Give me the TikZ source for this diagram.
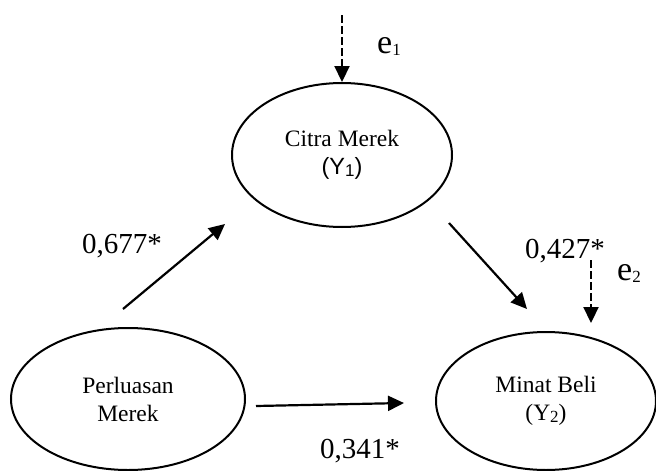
\documentclass[tikz,border=0pt]{standalone}
\usepackage{fontspec}
\setmainfont{Liberation Serif}
\newfontfamily\arialfam{Liberation Sans}
\usetikzlibrary{shapes.geometric,arrows.meta}
\newcommand{\lowsub}[2]{\raisebox{-#1}{\fontsize{17}{17}\selectfont #2}}
\begin{document}
\begin{tikzpicture}[x=1pt,y=-1pt,
  latent/.style={ellipse,draw,line width=2pt,inner sep=0pt,align=center,
    font=\fontsize{23.5}{28}\selectfont},
  pathline/.style={line width=2.2pt,-{Triangle[length=16pt,width=15pt]}},
  errline/.style={pathline,dash pattern=on 8pt off 3pt},
  coef/.style={font=\fontsize{29}{32}\selectfont,inner sep=0pt,anchor=base west},
  errlab/.style={font=\fontsize{34}{36}\selectfont,inner sep=0pt,anchor=base west}]
\useasboundingbox (0,0) rectangle (656,471);

% latent variables
\node[latent,minimum width=220pt,minimum height=144pt] (cm) at (342,155)
  {Citra Merek\\{\arialfam(Y\lowsub{2pt}{1})}};
\node[latent,minimum width=234pt,minimum height=142pt] (pm) at (128,399)
  {Perluasan\\Merek};
\node[latent,minimum width=220pt,minimum height=138pt] (mb) at (546,401)
  {Minat Beli\\(Y\lowsub{2pt}{2})};

% end points of the structural paths
\coordinate (p1s) at (123,309);
\coordinate (p1e) at (225,224);
\coordinate (p2s) at (449,223);
\coordinate (p2e) at (527,309);
\coordinate (p3s) at (256,406);
\coordinate (p3e) at (404,403);
\coordinate (e1s) at (342,15);
\coordinate (e2s) at (591,260);
\coordinate (e2e) at (591,323);

% structural paths
\draw[pathline] (p1s) -- (p1e);
\draw[pathline] (p2s) -- (p2e);
\draw[pathline] (p3s) -- (p3e);

% error terms
\draw[errline] (e1s) -- (cm.north);
\draw[errline] (e2s) -- (e2e);

% labels
\node[coef] (c1) at (82,253) {0,677*};
\node[coef] (c2) at (525,258) {0,427*};
\node[coef] (c3) at (320,458) {0,341*};
\node[errlab] (l1) at (377,53) {e\lowsub{2pt}{1}};
\node[errlab] (l2) at (617,280) {e\lowsub{2pt}{2}};
\end{tikzpicture}
\end{document}
